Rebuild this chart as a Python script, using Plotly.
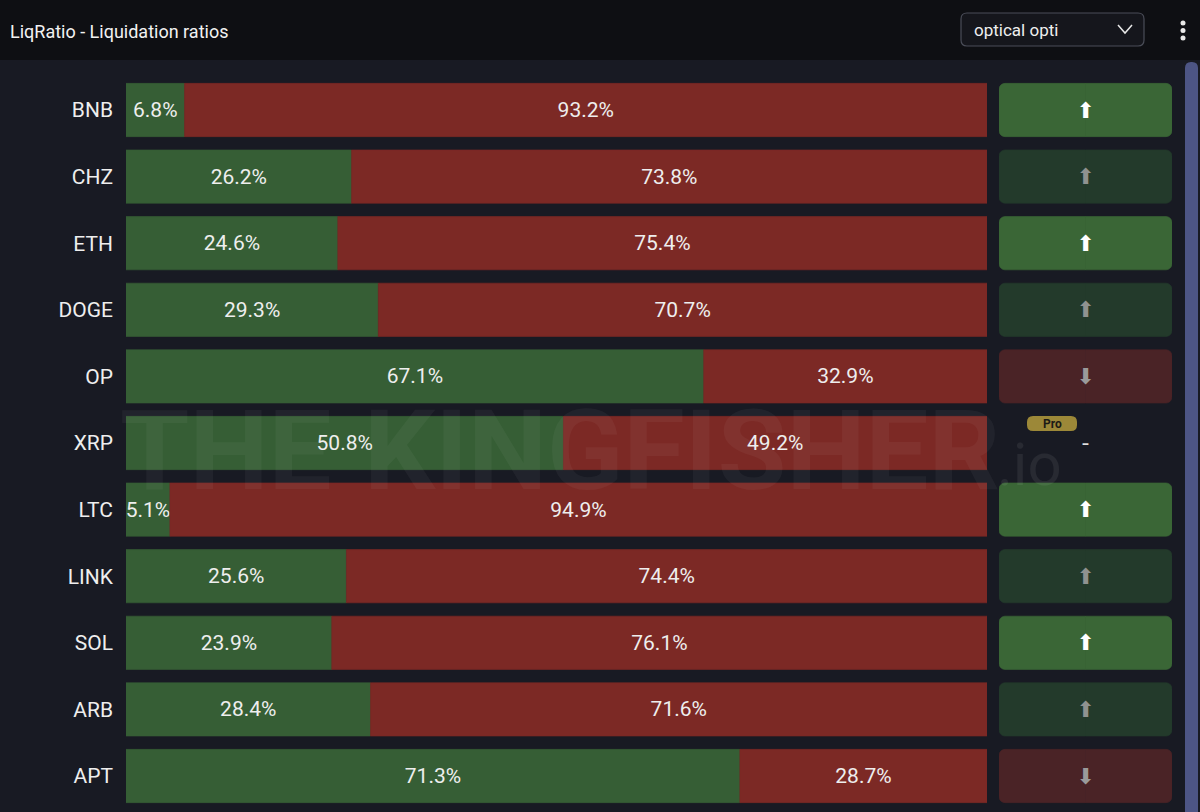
import plotly.graph_objects as go

# liquidation ratios per coin (left = green share, right = red share)
coins = ["BNB", "CHZ", "ETH", "DOGE", "OP", "XRP", "LTC", "LINK", "SOL", "ARB", "APT"]
green_pct = [6.8, 26.2, 24.6, 29.3, 67.1, 50.8, 5.1, 25.6, 23.9, 28.4, 71.3]
red_pct = [93.2, 73.8, 75.4, 70.7, 32.9, 49.2, 94.9, 74.4, 76.1, 71.6, 28.7]
signals = ["up", "up_dim", "up", "up_dim", "down_dim", "none",
           "up", "up_dim", "up", "up_dim", "down_dim"]

W, H = 1200, 812
BG = "#181a23"
HEADER = "#0e0f13"
GREEN = "#365e35"
RED = "#7c2925"

btn_fill = {"up": "#3a6636", "up_dim": "#233a2b", "down_dim": "#4a2326", "none": "rgba(0,0,0,0)"}
btn_text = {"up": "⬆", "up_dim": "⬆", "down_dim": "⬇", "none": "-"}
btn_color = {"up": "#ffffff", "up_dim": "#8f9290", "down_dim": "#9a9a9a", "none": "#e0e0e0"}


def px(x):
    return x / W


def py(y):
    return 1 - y / H


def rounded_rect(x0, y0, x1, y1, r):
    # path in paper coords, corners given in pixels from top-left
    pts = [
        f"M {px(x0 + r)} {py(y0)}",
        f"L {px(x1 - r)} {py(y0)}",
        f"Q {px(x1)} {py(y0)} {px(x1)} {py(y0 + r)}",
        f"L {px(x1)} {py(y1 - r)}",
        f"Q {px(x1)} {py(y1)} {px(x1 - r)} {py(y1)}",
        f"L {px(x0 + r)} {py(y1)}",
        f"Q {px(x0)} {py(y1)} {px(x0)} {py(y1 - r)}",
        f"L {px(x0)} {py(y0 + r)}",
        f"Q {px(x0)} {py(y0)} {px(x0 + r)} {py(y0)}",
        "Z",
    ]
    return " ".join(pts)


fig = go.Figure()

for vals, col in ((green_pct, GREEN), (red_pct, RED)):
    fig.add_trace(go.Bar(
        y=coins, x=vals, orientation="h",
        marker=dict(color=col, line=dict(width=0.6, color=col)),
        text=[f"{v:.1f}%" for v in vals],
        textposition="inside", insidetextanchor="middle", constraintext="none", textangle=0,
        textfont=dict(family="Roboto", size=21, color="#eeeeee"),
        hoverinfo="skip", xaxis="x", yaxis="y",
    ))

# signal buttons on the right: two halves so both ends get rounded corners
fills = [btn_fill[s] for s in signals]
for half in (-0.5, 0.5):
    fig.add_trace(go.Bar(
        y=coins, x=[half] * len(coins), orientation="h",
        marker=dict(color=fills, line=dict(width=0.6, color=fills), cornerradius=6),
        hoverinfo="skip", xaxis="x2", yaxis="y",
    ))
# arrow glyphs, centred on a transparent full-width bar
fig.add_trace(go.Bar(
    y=coins, x=[1] * len(coins), orientation="h",
    marker=dict(color="rgba(0,0,0,0)", line=dict(width=0)),
    text=[btn_text[s] for s in signals],
    textposition="inside", insidetextanchor="middle", constraintext="none", textangle=0,
    textfont=dict(family="DejaVu Sans", size=22, color=[btn_color[s] for s in signals]),
    hoverinfo="skip", xaxis="x3", yaxis="y",
))

shapes = [
    # header strip
    dict(type="rect", xref="paper", yref="paper", x0=0, x1=1, y0=py(60), y1=1,
         fillcolor=HEADER, line=dict(width=0), layer="below"),
    # dropdown box
    dict(type="path", xref="paper", yref="paper", path=rounded_rect(961, 13, 1144, 46, 6),
         fillcolor="#15161c", line=dict(color="#4a4d58", width=1.2)),
    # chevron
    dict(type="path", xref="paper", yref="paper",
         path=f"M {px(1118)} {py(25)} L {px(1125)} {py(33)} L {px(1132)} {py(25)}",
         line=dict(color="#e8e8e8", width=1.5)),
    # scrollbar
    dict(type="path", xref="paper", yref="paper", path=rounded_rect(1185, 62, 1198, 830, 6),
         fillcolor="#4d5585", line=dict(width=0)),
    # pro badge
    dict(type="path", xref="paper", yref="paper", path=rounded_rect(1027, 416, 1077, 431, 6),
         fillcolor="#9c8838", line=dict(width=0)),
]
for yy in (23, 30.5, 38):
    shapes.append(dict(type="circle", xref="paper", yref="paper",
                       x0=px(1180.5), x1=px(1185.5), y0=py(yy + 2.5), y1=py(yy - 2.5),
                       fillcolor="#e8e8e8", line=dict(width=0)))

wm = "rgba(255,255,255,0.045)"
annotations = [
    dict(text="LiqRatio - Liquidation ratios", xref="paper", yref="paper",
         x=px(8), y=py(31), xanchor="left", yanchor="middle", showarrow=False,
         font=dict(family="Roboto", size=18, color="#f2f2f2")),
    dict(text="optical opti", xref="paper", yref="paper",
         x=px(972), y=py(30), xanchor="left", yanchor="middle", showarrow=False,
         font=dict(family="Roboto", size=17, color="#eeeeee")),
    dict(text="<b>Pro</b>", xref="paper", yref="paper",
         x=px(1052), y=py(423.5), xanchor="center", yanchor="middle", showarrow=False,
         font=dict(family="Roboto", size=12, color="#1c1b16")),
    # watermark
    dict(text="<b>THE</b>", xref="paper", yref="paper",
         x=px(118), y=py(450), xanchor="left", yanchor="middle", showarrow=False,
         font=dict(family="Roboto", size=112, color=wm)),
    dict(text="<b>KINGFISHER</b>", xref="paper", yref="paper",
         x=px(1002), y=py(450), xanchor="right", yanchor="middle", showarrow=False,
         font=dict(family="Roboto", size=112, color=wm)),
    dict(text=".io", xref="paper", yref="paper",
         x=px(995), y=py(464), xanchor="left", yanchor="middle", showarrow=False,
         font=dict(family="Roboto", size=60, color="rgba(255,255,255,0.07)")),
]

fig.update_layout(
    width=W, height=H,
    margin=dict(l=0, r=0, t=0, b=0),
    paper_bgcolor=BG, plot_bgcolor="rgba(0,0,0,0)",
    barmode="relative", bargap=0.2,
    showlegend=False,
    shapes=shapes, annotations=annotations,
    xaxis=dict(domain=[px(126), px(987)], range=[0, 100], visible=False, fixedrange=True),
    xaxis2=dict(domain=[px(999), px(1172)], range=[-0.5, 0.5], visible=False, fixedrange=True),
    xaxis3=dict(overlaying="x2", range=[0, 1], visible=False, fixedrange=True),
    yaxis=dict(
        domain=[py(809.3), py(76.7)], type="category",
        categoryorder="array", categoryarray=coins, range=[10.5, -0.5],
        showgrid=False, zeroline=False, showline=False, ticks="",
        ticklabelstandoff=12,
        tickfont=dict(family="Roboto", size=21, color="#eeeeee"),
        fixedrange=True,
    ),
)

fig.write_html("out.html", config={"displayModeBar": False},
               post_script="document.body.style.margin='0';document.body.style.overflow='hidden';")
